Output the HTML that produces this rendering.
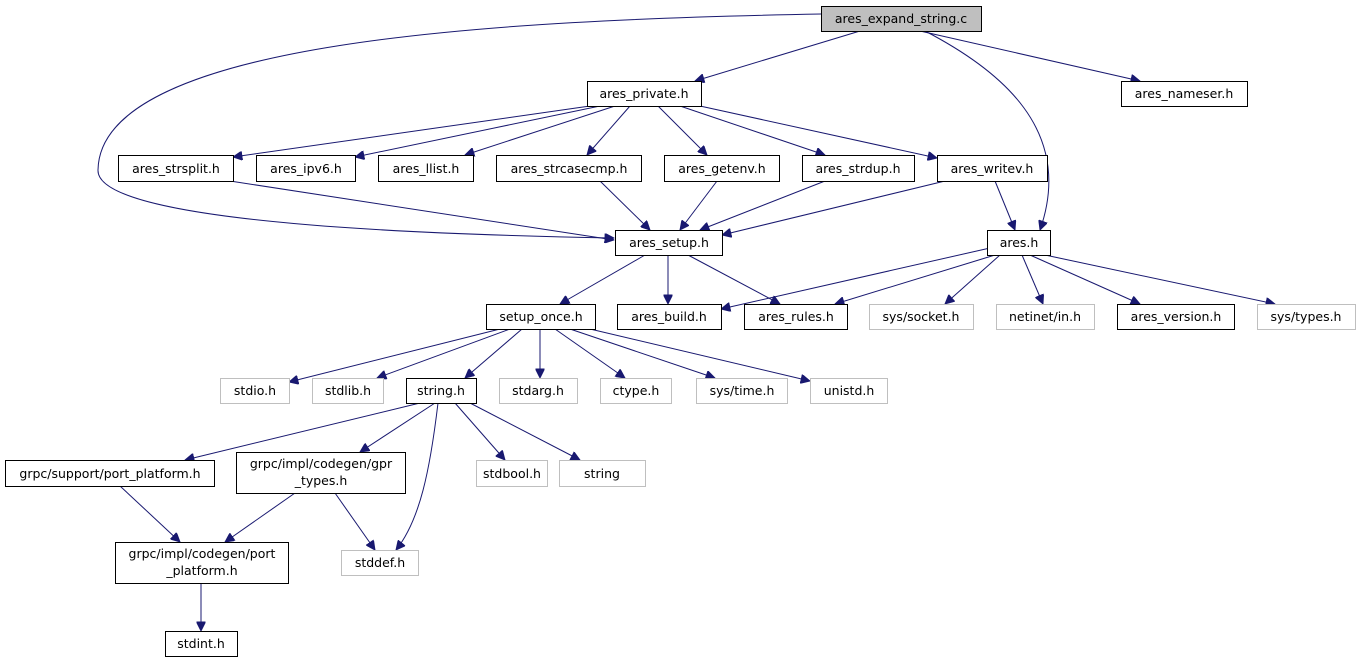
<!DOCTYPE html>
<html><head><meta charset="utf-8"><style>
html,body{margin:0;padding:0;background:#fff}
svg{display:block}
text{font-family:"DejaVu Sans","Liberation Sans",sans-serif;font-size:12.5px;fill:#000}
.g{fill:#fff;stroke:#bfbfbf;stroke-width:1}
.b{fill:#fff;stroke:#000;stroke-width:1}
.e{fill:none;stroke:#191970;stroke-width:1}
</style></head><body>
<svg width="1360" height="664" viewBox="0 0 1360 664" xmlns="http://www.w3.org/2000/svg">
<defs><marker id="a" viewBox="0 0 10 10" refX="10" refY="5" markerWidth="10" markerHeight="9" markerUnits="userSpaceOnUse" orient="auto"><path d="M0,0L10,5L0,10z" fill="#191970" stroke="#191970"/></marker></defs>
<g marker-end="url(#a)">
<path class="e" d="M860,31L695,81"/>
<path class="e" d="M920,31L1140,81"/>
<path class="e" d="M925,31C1000,70 1075,130 1040,230"/>
<path class="e" d="M821,14C500,20 100,40 98,170C96,225 450,235 614,238"/>
<path class="e" d="M590,106L233,157"/>
<path class="e" d="M600,106L355,157"/>
<path class="e" d="M615,106L465,155"/>
<path class="e" d="M630,106L587,155"/>
<path class="e" d="M658,106L707,155"/>
<path class="e" d="M680,106L825,155"/>
<path class="e" d="M700,106L937,158"/>
<path class="e" d="M230,181L614,240"/>
<path class="e" d="M600,181L650,230"/>
<path class="e" d="M717,181L680,230"/>
<path class="e" d="M825,181L700,230"/>
<path class="e" d="M945,181L722,235"/>
<path class="e" d="M995,181L1015,230"/>
<path class="e" d="M645,255L560,304"/>
<path class="e" d="M668,255L668,304"/>
<path class="e" d="M688,255L780,304"/>
<path class="e" d="M990,248L721,309"/>
<path class="e" d="M995,255L835,304"/>
<path class="e" d="M1000,255L945,304"/>
<path class="e" d="M1022,255L1043,304"/>
<path class="e" d="M1030,255L1140,304"/>
<path class="e" d="M1045,255L1275,304"/>
<path class="e" d="M500,329L289,382"/>
<path class="e" d="M510,329L377,378"/>
<path class="e" d="M522,329L465,378"/>
<path class="e" d="M540,329L540,378"/>
<path class="e" d="M555,329L625,378"/>
<path class="e" d="M570,329L715,378"/>
<path class="e" d="M590,329L810,381"/>
<path class="e" d="M420,403L185,460"/>
<path class="e" d="M435,403L360,452"/>
<path class="e" d="M438,403C430,470 420,520 396,550"/>
<path class="e" d="M455,403L505,460"/>
<path class="e" d="M470,403L580,460"/>
<path class="e" d="M120,486L180,542"/>
<path class="e" d="M295,493L225,542"/>
<path class="e" d="M335,493L375,550"/>
<path class="e" d="M201,583L201,631"/>
</g>
<rect x="821.5" y="6.5" width="160" height="25" fill="#bfbfbf" stroke="#000"/><text x="901" y="23" text-anchor="middle">ares_expand_string.c</text>
<rect class="b" x="587.5" y="81.5" width="114" height="25"/><text x="644" y="98" text-anchor="middle">ares_private.h</text>
<rect class="b" x="1121.5" y="81.5" width="126" height="25"/><text x="1184" y="98" text-anchor="middle">ares_nameser.h</text>
<rect class="b" x="118.5" y="155.5" width="115" height="26"/><text x="176" y="173" text-anchor="middle">ares_strsplit.h</text>
<rect class="b" x="256.5" y="155.5" width="99" height="26"/><text x="306" y="173" text-anchor="middle">ares_ipv6.h</text>
<rect class="b" x="378.5" y="155.5" width="95" height="26"/><text x="426" y="173" text-anchor="middle">ares_llist.h</text>
<rect class="b" x="496.5" y="155.5" width="145" height="26"/><text x="569" y="173" text-anchor="middle">ares_strcasecmp.h</text>
<rect class="b" x="664.5" y="155.5" width="115" height="26"/><text x="722" y="173" text-anchor="middle">ares_getenv.h</text>
<rect class="b" x="802.5" y="155.5" width="112" height="26"/><text x="858" y="173" text-anchor="middle">ares_strdup.h</text>
<rect class="b" x="937.5" y="155.5" width="110" height="26"/><text x="992" y="173" text-anchor="middle">ares_writev.h</text>
<rect class="b" x="615.5" y="230.5" width="107" height="25"/><text x="669" y="247" text-anchor="middle">ares_setup.h</text>
<rect class="b" x="987.5" y="230.5" width="63" height="25"/><text x="1019" y="247" text-anchor="middle">ares.h</text>
<rect class="b" x="486.5" y="304.5" width="109" height="25"/><text x="541" y="321" text-anchor="middle">setup_once.h</text>
<rect class="b" x="617.5" y="304.5" width="104" height="25"/><text x="669" y="321" text-anchor="middle">ares_build.h</text>
<rect class="b" x="744.5" y="304.5" width="103" height="25"/><text x="796" y="321" text-anchor="middle">ares_rules.h</text>
<rect class="g" x="869.5" y="304.5" width="104" height="25"/><text x="921" y="321" text-anchor="middle">sys/socket.h</text>
<rect class="g" x="996.5" y="304.5" width="98" height="25"/><text x="1045" y="321" text-anchor="middle">netinet/in.h</text>
<rect class="b" x="1117.5" y="304.5" width="117" height="25"/><text x="1176" y="321" text-anchor="middle">ares_version.h</text>
<rect class="g" x="1257.5" y="304.5" width="98" height="25"/><text x="1306" y="321" text-anchor="middle">sys/types.h</text>
<rect class="g" x="220.5" y="378.5" width="69" height="25"/><text x="255" y="395" text-anchor="middle">stdio.h</text>
<rect class="g" x="312.5" y="378.5" width="71" height="25"/><text x="348" y="395" text-anchor="middle">stdlib.h</text>
<rect class="b" x="406.5" y="378.5" width="70" height="25"/><text x="441" y="395" text-anchor="middle">string.h</text>
<rect class="g" x="499.5" y="378.5" width="78" height="25"/><text x="538" y="395" text-anchor="middle">stdarg.h</text>
<rect class="g" x="600.5" y="378.5" width="71" height="25"/><text x="636" y="395" text-anchor="middle">ctype.h</text>
<rect class="g" x="696.5" y="378.5" width="91" height="25"/><text x="742" y="395" text-anchor="middle">sys/time.h</text>
<rect class="g" x="810.5" y="378.5" width="77" height="25"/><text x="849" y="395" text-anchor="middle">unistd.h</text>
<rect class="b" x="5.5" y="460.5" width="209" height="26"/><text x="110" y="478" text-anchor="middle">grpc/support/port_platform.h</text>
<rect class="b" x="236.5" y="452.5" width="169" height="41"/><text x="321" y="468" text-anchor="middle">grpc/impl/codegen/gpr</text><text x="321" y="485" text-anchor="middle">_types.h</text>
<rect class="g" x="476.5" y="460.5" width="71" height="26"/><text x="512" y="478" text-anchor="middle">stdbool.h</text>
<rect class="g" x="559.5" y="460.5" width="86" height="26"/><text x="602" y="478" text-anchor="middle">string</text>
<rect class="b" x="115.5" y="542.5" width="173" height="41"/><text x="202" y="558" text-anchor="middle">grpc/impl/codegen/port</text><text x="202" y="575" text-anchor="middle">_platform.h</text>
<rect class="g" x="341.5" y="550.5" width="77" height="25"/><text x="380" y="567" text-anchor="middle">stddef.h</text>
<rect class="b" x="165.5" y="631.5" width="72" height="25"/><text x="201" y="648" text-anchor="middle">stdint.h</text>
</svg>
</body></html>
